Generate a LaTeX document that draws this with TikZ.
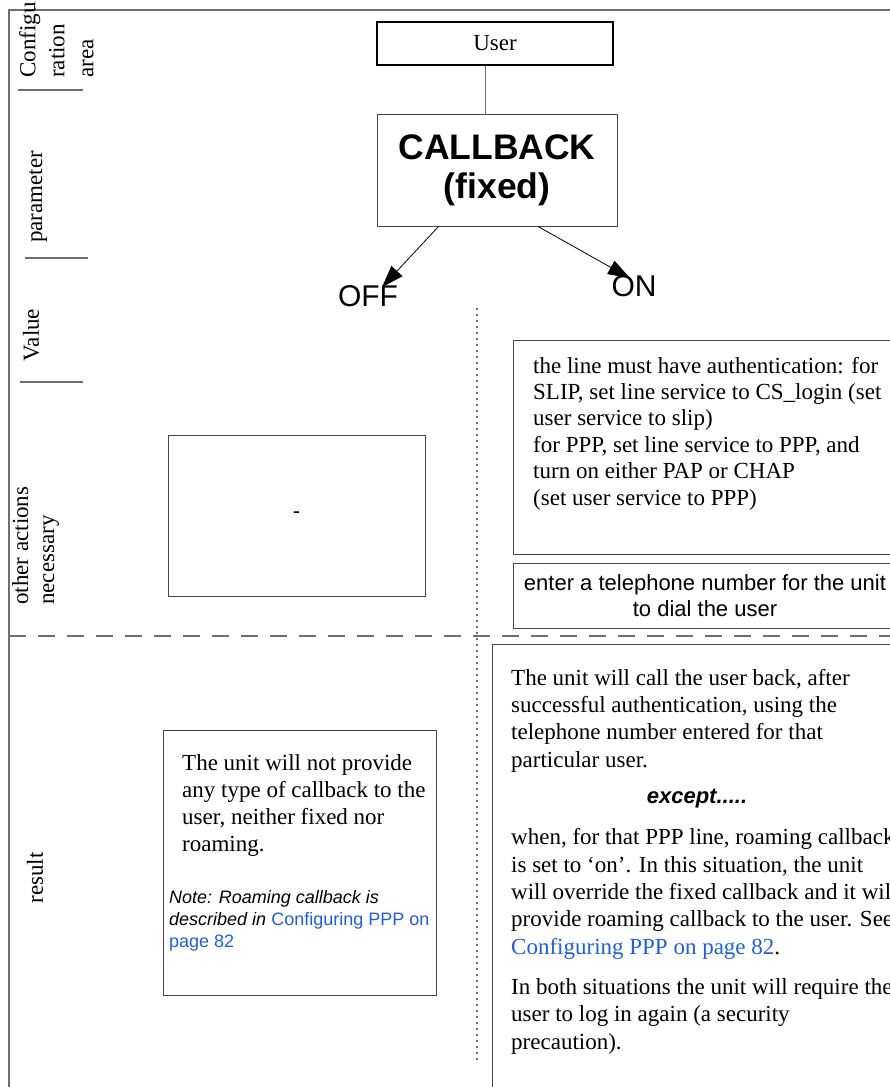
\documentclass[tikz,border=0pt]{standalone}
\usepackage{fontspec}
\setmainfont{Liberation Serif}
\setsansfont{Liberation Sans}
\usepackage{xcolor}
\usetikzlibrary{positioning,arrows.meta}

\definecolor{linkblue}{RGB}{26,95,230}
\definecolor{rulegray}{RGB}{110,110,110}
\definecolor{boxgray}{RGB}{70,70,70}

\tikzset{
  rule/.style={draw=rulegray, line width=1.1pt},
  box/.style={draw=boxgray, line width=1pt, inner sep=0pt},
  userbox/.style={draw=black, line width=2.2pt, inner sep=0pt, font={\fontsize{23}{26}\selectfont}},
  bodytext/.style={align=left, inner sep=0pt, anchor=base west},
  sidelabel/.style={rotate=90, inner sep=0pt, font={\fontsize{23}{26}\selectfont}},
  conn/.style={draw=rulegray, line width=1pt},
  arr/.style={draw=black, line width=0.8pt, -{Triangle[length=22pt,width=15pt]}},
}

\begin{document}
\begin{tikzpicture}[x=1pt,y=-1pt]
        \useasboundingbox (0,0) rectangle (889,1087);

        % Define frame corners
        \coordinate (TL) at (9,10);      % Top-left
        \coordinate (TR) at (900,10);    % Top-right (off page)
        \coordinate (BL) at (9,1100);    % Bottom-left (off page)

        % Frame and section rules
        \draw[rule] (BL) -- (TL) -- (TR);
        \draw[rule] (18,90) -- (83,90);
        \draw[rule] (25,258) -- (88,258);
        \draw[rule] (20,382) -- (83,382);
        \draw[rule, dash pattern=on 17pt off 12pt] (9,636) -- (900,636);
        \draw[rule, dash pattern=on 1.6pt off 4.4pt] (477,308) -- (477,1060);

        % Row labels on the left
        \node[sidelabel, anchor=north west, align=left, font={\fontsize{23}{29}\selectfont}] (cfg) at (19,78) {Configu\\ration\\area};
        \node[sidelabel] (param) at (38,197) {parameter};
        \node[sidelabel] (value) at (31,335) {Value};
        \node[sidelabel, anchor=north west, align=left] (other) at (12,605) {other actions\\necessary};
        \node[sidelabel] (result) at (35,878) {result};

        % Area and parameter
        \node[userbox, minimum width=236, minimum height=43] (user) at (495,43.5) {User};
        \node[box, minimum width=240, minimum height=112, align=center,
              font={\sffamily\bfseries\fontsize{35.5}{39}\selectfont}] (cb) at (497,170) {CALLBACK\\(fixed)};
        \draw[conn] ([xshift=-10pt]user.south) -- ([xshift=-10pt]user.south |- cb.north);

        % Values
        \node[inner sep=0pt, font={\sffamily\fontsize{30}{34}\selectfont}] (off) at (368,296) {OFF};
        \node[inner sep=0pt, font={\sffamily\fontsize{30}{34}\selectfont}] (on) at (634,286) {ON};
        \draw[arr] (cb.224) -- ([xshift=14pt,yshift=-2pt]off.north);
        \draw[arr] (cb.-54) -- ([xshift=-4pt,yshift=-3pt]on.north);

        % Other actions (text nodes sit on their last baseline)
        \node[box, minimum width=257, minimum height=161, font={\sffamily\fontsize{22}{26}\selectfont}] (offact) at (296.5,515.5) {-};
        \node[box, minimum width=400, minimum height=214] (onact) at (713,447) {};
        \node[bodytext, font={\fontsize{23}{26.4}\selectfont}] (onacttext) at (533,505)
          {the line must have authentication: for\\
           SLIP, set line service to CS\_login (set\\
           user service to slip)\\
           for PPP, set line service to PPP, and\\
           turn on either PAP or CHAP\\
           (set user service to PPP)};
        \node[box, minimum width=384, minimum height=65, align=center,
              font={\sffamily\fontsize{22}{26}\selectfont}] (tel) at (705,595.5)
          {enter a telephone number for the unit\\to dial the user};

        % Results
        \node[box, minimum width=273, minimum height=265] (offres) at (299.5,862.5) {};
        \node[bodytext, font={\fontsize{23}{26.8}\selectfont}] (offrestext) at (182,851)
          {The unit will not provide\\
           any type of callback to the\\
           user, neither fixed nor\\
           roaming.};
        \node[bodytext, font={\sffamily\itshape\fontsize{18}{22}\selectfont}] (note) at (169,947)
          {Note: Roaming callback is\\
           described in \textcolor{linkblue}{\upshape Configuring PPP on}\\
           \textcolor{linkblue}{\upshape page 82}};

        \node[box, minimum width=420, minimum height=476] (onres) at (702,882) {};
        \node[bodytext, font={\fontsize{23}{27.3}\selectfont}] (onres1) at (511,767)
          {The unit will call the user back, after\\
           successful authentication, using the\\
           telephone number entered for that\\
           particular user.};
        \node[inner sep=0pt, anchor=base, font={\sffamily\bfseries\itshape\fontsize{22}{26}\selectfont}] (except) at (697,803) {except.....};
        \node[bodytext, font={\fontsize{23}{27.3}\selectfont}] (onres2) at (511,954)
          {when, for that PPP line, roaming callback\\
           is set to `on'. In this situation, the unit\\
           will override the fixed callback and it will\\
           provide roaming callback to the user. See\\
           \textcolor{linkblue}{Configuring PPP on page 82}.};
        \node[bodytext, font={\fontsize{23}{27.3}\selectfont}] (onres3) at (511,1049)
          {In both situations the unit will require the\\
           user to log in again (a security\\
           precaution).};

\end{tikzpicture}
\end{document}
